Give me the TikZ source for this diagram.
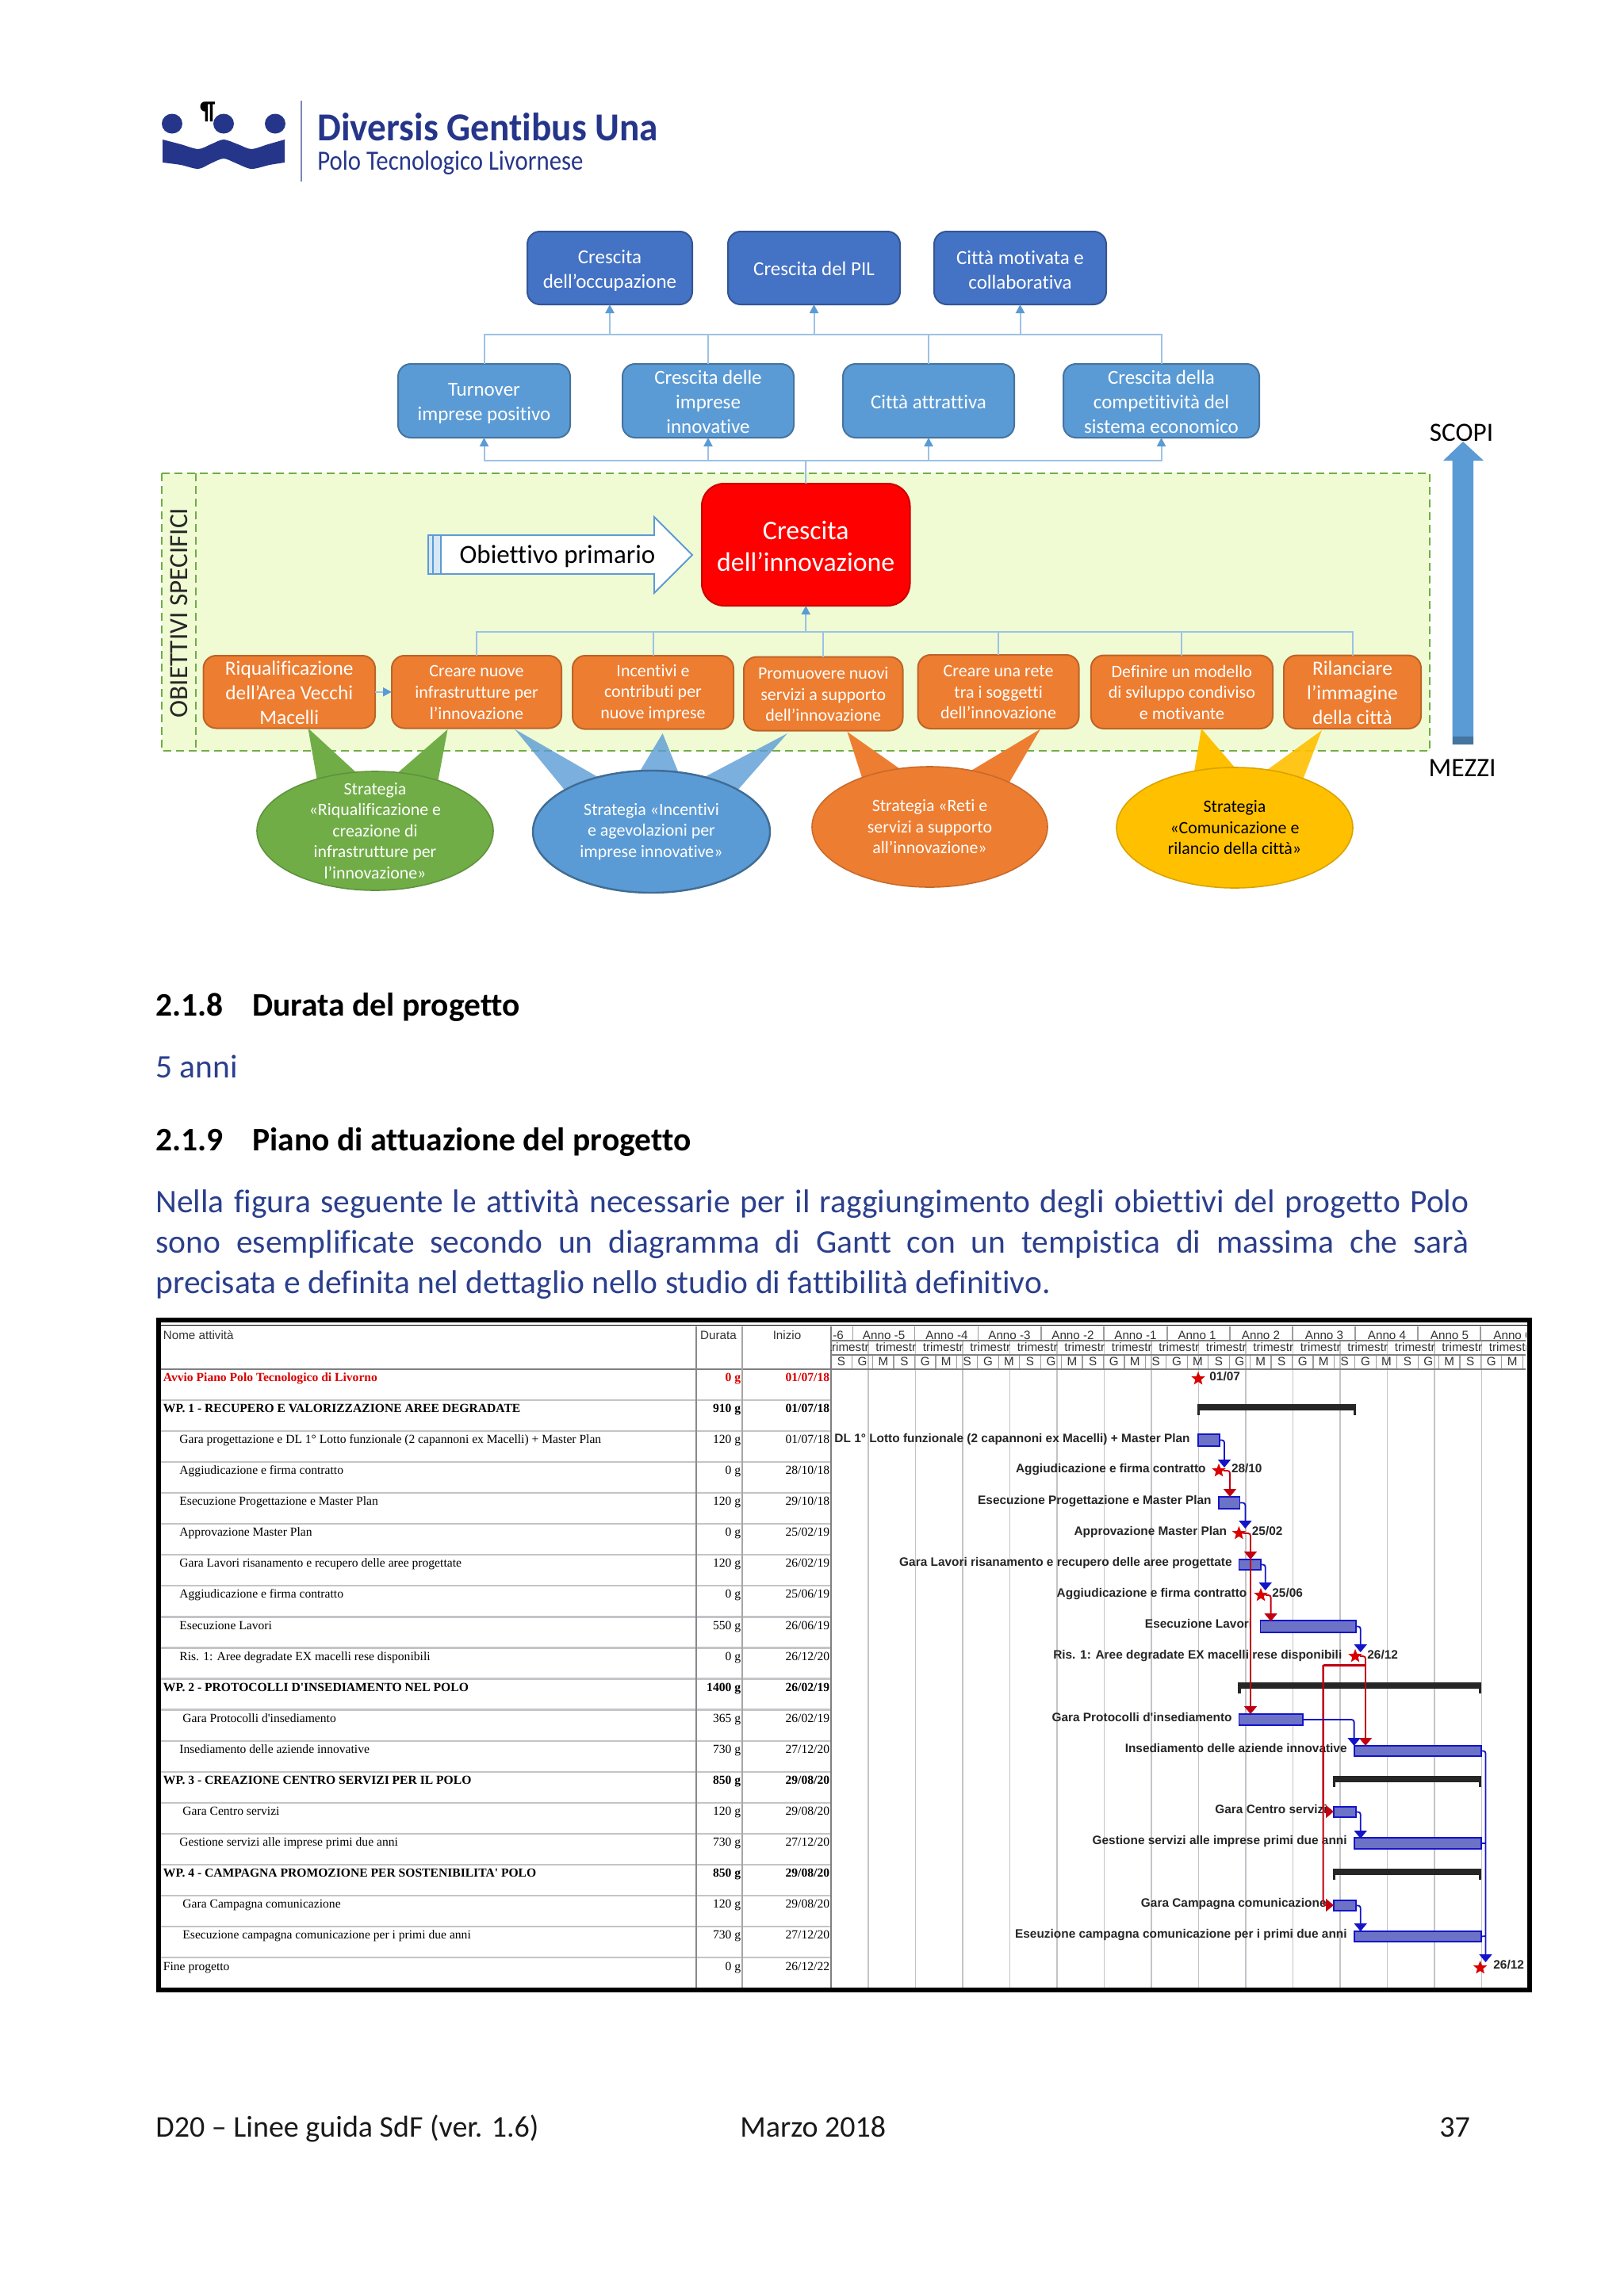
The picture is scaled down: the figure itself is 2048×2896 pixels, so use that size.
\documentclass[tikz,border=0pt]{standalone}
\usepackage{fontspec}
\setmainfont[Ligatures=NoCommon]{Carlito}
\newfontfamily\serf{Liberation Serif}
\newfontfamily\arl{Liberation Sans}
\usetikzlibrary{arrows.meta,shapes.geometric,calc}
\definecolor{navy}{HTML}{25368A}
\definecolor{boxa}{HTML}{4472C4}
\definecolor{boxb}{HTML}{5B9BD5}
\definecolor{boxo}{HTML}{ED7D31}
\definecolor{boxy}{HTML}{FFC000}
\definecolor{conc}{HTML}{9CC2E5}
\definecolor{greenf}{HTML}{F0FBD4}
\definecolor{greenl}{HTML}{70AD47}
\definecolor{bodyc}{HTML}{2B3F8C}
\definecolor{gred}{HTML}{C00010}
\definecolor{gblue}{HTML}{1414C8}
\definecolor{barf}{HTML}{6C72C6}
\definecolor{gridc}{HTML}{C4C4C8}
\newcommand\fsz[2]{\fontsize{#1}{#2}\selectfont}
% box without text
\newcommand\bxe[6]{%
  \pgfmathsetmacro\bxx{(#2+#4)/2}\pgfmathsetmacro\byy{(#3+#5)/2}%
  \pgfmathsetmacro\bw{(#4-#2)*.5}\pgfmathsetmacro\bh{(#5-#3)*.5}%
  \node[#6,minimum width=\bw pt,minimum height=\bh pt] (#1) at (\bxx,\byy) {};}
% box plus its text, the text set slightly below the centre (#8 = shift)
\newcommand\bx[8][0pt]{%
  \bxe{#2}{#3}{#4}{#5}{#6}{#7}
  \node[#7,draw=none,fill=none,rounded corners=0pt,yshift=-#1] (#2t) at (#2.center) {#8};}
\newcommand\grow[6]{%
  \pgfmathsetmacro\ry{1738.8+39.09*(#1-1)}%
  \node[tbl,#6,anchor=west] (n#1) at (#2,\ry) {#3};
  \node[tbl,#6,anchor=east] (d#1) at (934.5,\ry) {#4};
  \node[tbl,#6,anchor=east] (i#1) at (1046.5,\ry) {#5};}
\newcommand\sumbar[4]{%
  \fill[black!85] (#2,#4) rectangle (#3,#4+8);
  \fill[black!85] (#2,#4) rectangle (#2+3.5,#4+14);
  \fill[black!85] (#3-3.5,#4) rectangle (#3,#4+14);
  \coordinate (#1) at (#2,#4);}
\tikzset{
  x=0.5pt,y=-0.5pt,
  rbox/.style={rounded corners=8pt,inner sep=0pt,outer sep=0pt,align=center,text=white},
  rowa/.style={rbox,fill=boxa,draw=boxa!75!black,line width=1pt,font=\fsz{12.5}{15.5}},
  rowb/.style={rbox,fill=boxb,draw=boxb!75!black,line width=1pt,font=\fsz{12.5}{15.5}},
  obja/.style={rbox,fill=boxo,draw=boxo!80!black,line width=1pt,font=\fsz{11}{13.3}},
  objb/.style={rbox,fill=boxo,draw=boxo!80!black,line width=1pt,font=\fsz{12.7}{15.4}},
  conn/.style={draw=conc,line width=1pt},
  tipc/.style={-{Triangle[width=5.5pt,length=5.5pt,fill=boxb,color=boxb]}},
  elltxt/.style={ellipse,inner sep=-14pt,outer sep=0pt,minimum width=#1,align=center,text=white,font=\fsz{10.95}{13.25}},
  tbl/.style={inner sep=0pt,font=\serf\fsz{7.8}{8},text height=5pt,text depth=1.5pt},
  tbold/.style={font=\serf\bfseries\fsz{7.8}{8}},
  tred/.style={font=\serf\bfseries\fsz{7.8}{8},text=red!85!black},
  hdr/.style={inner sep=0pt,font=\arl\fsz{7.6}{8},text height=5pt,text depth=1.5pt,text=black!80},
  glab/.style={inner sep=0pt,anchor=east,font=\arl\bfseries\fsz{7.7}{8},text=black!85,text height=5pt,text depth=1pt},
  gdate/.style={inner sep=0pt,anchor=west,font=\arl\bfseries\fsz{7.7}{8},text=black!85,text height=5pt,text depth=1pt},
  gbar/.style={inner sep=0pt,outer sep=0pt,fill=barf,draw=gblue,line width=.9pt},
  gstar/.style={star,star points=5,star point ratio=2.3,fill=red!85!black,draw=none,inner sep=0pt,minimum size=9pt},
  gb/.style={draw=gblue,line width=.9pt,rounded corners=1.5pt,-{Triangle[width=8pt,length=5pt,fill=gblue,color=gblue]}},
  gr/.style={draw=gred,line width=.9pt,rounded corners=1.5pt,-{Triangle[width=8pt,length=5pt,fill=gred,color=gred]}},
  bodytx/.style={inner sep=0pt,anchor=west,text=bodyc,font=\fsz{20.75}{25},text height=15pt,text depth=5pt},
  headtx/.style={inner sep=0pt,anchor=west,text=black,font=\bfseries\fsz{20.75}{25},text height=15pt,text depth=5pt},
  foot/.style={inner sep=0pt,anchor=west,text=black!90,font=\fsz{19}{25},text height=15pt,text depth=5pt},
}
\begin{document}
\begin{tikzpicture}
\useasboundingbox (0,0) rectangle (2048,2896);
\fill[white] (0,0) rectangle (2048,2896);

% ---------- logo
\foreach \lx in {217,282,347}{\fill[navy] (\lx,156) ellipse[x radius=13,y radius=12.5];}
\fill[navy] plot[smooth] coordinates {(205,176)(228,182)(250,188)(266,182)(282,176)(300,182)(317,188)(338,182)(359,176)}
  -- plot[smooth] coordinates {(359,205)(340,208)(317,213)(298,206)(282,200)(266,206)(250,213)(228,208)(205,205)} -- cycle;
\draw[navy!60,line width=.6pt] (380,127) -- (380,229);
\node[inner sep=0pt,font=\bfseries\fsz{16}{16},text=black] (pil) at (262,141) {¶};
\node[inner sep=0pt,anchor=west,text=navy,font=\bfseries\fsz{25}{25}] (lg1) at (400,160) {\scalebox{.945}[1]{Diversis Gentibus Una}};
\node[inner sep=0pt,anchor=west,text=navy,font=\fsz{17.5}{17.5}] (lg2) at (400,205) {\scalebox{.88}[1]{Polo Tecnologico Livornese}};

% ---------- top boxes
\bx[1.6pt]{ra}{665}{292}{873}{384}{rowa}{Crescita\\dell’occupazione}
\bx[.6pt]{rb}{918}{292}{1135}{384}{rowa}{Crescita del PIL}
\bx[1.2pt]{rc}{1178}{292}{1395}{384}{rowa}{Città motivata e\\collaborativa}
\bx[1.6pt]{ta}{502}{459}{719}{552}{rowb}{Turnover\\imprese positivo}
\bx[.6pt]{tb}{785}{459}{1001}{552}{rowb}{Crescita delle\\imprese\\innovative}
\bx[.6pt]{tc}{1063}{459}{1279}{552}{rowb}{Città attrattiva}
\bx[.6pt]{td}{1341}{459}{1588}{552}{rowb}{Crescita della\\competitività del\\sistema economico}
\coordinate (bus1) at (1016,422);
\coordinate (bus2) at (1016,581);
\coordinate (bus3) at (1016,796.5);
\foreach \n in {ta,tb,tc,td}{\draw[conn] (\n.north) |- (bus1);}
\foreach \n in {ra,rb,rc}{\draw[conn,tipc] (bus1) -| (\n.south);}
\foreach \n in {ta,tb,tc,td}{\draw[conn,tipc] (bus2) -| (\n.south);}

% ---------- green area
\draw[greenl,fill=greenf,line width=1pt,dash pattern=on 5pt off 3pt] (204,597) rectangle (1803,947);
\draw[greenl,line width=1pt,dash pattern=on 5pt off 3pt] (247,597) -- (247,947);
\node[rotate=90,inner sep=0pt,text=black!85,font=\fsz{16.6}{18}] (obs) at (226,773) {OBIETTIVI SPECIFICI};

% ---------- primary arrow
\fill[conc!40] (540,675) rectangle (556,724);
\draw[boxb,line width=.8pt] (540,675) rectangle (546,724) (546,675) rectangle (556,724);
\draw[boxb,fill=white,line width=.9pt] (556,675) -- (825,675) -- (825,652) -- (873,700) -- (825,748) -- (825,724) -- (556,724) -- cycle;
\node[inner sep=0pt,text=black,font=\fsz{16.5}{20}] (op) at (703,702) {Obiettivo primario};

% ---------- red box
\bx[.8pt]{red}{885}{610}{1147.5}{764}{rbox,rounded corners=14pt,fill=red,draw=red!80!black,line width=1pt,font=\fsz{16.9}{20}}{Crescita\\dell’innovazione}
\draw[conn] (red.north) -- (bus2);
\draw[conn,tipc] (bus3) -- (red.south);

% ---------- objectives
\bx[.5pt]{oa}{256.5}{827}{473}{918.5}{objb}{Riqualificazione\\dell’Area Vecchi\\Macelli}
\bx[.3pt]{ob}{494}{827}{708}{918.5}{obja}{Creare nuove\\infrastrutture per\\l’innovazione}
\bx[.3pt]{oc}{722}{827}{925}{919.6}{obja}{Incentivi e\\contributi per\\nuove imprese}
\bx[.3pt]{od}{938}{828.6}{1138.5}{921.5}{obja}{Promuovere nuovi\\servizi a supporto\\dell’innovazione}
\bx[.3pt]{oe}{1157.6}{826}{1360.6}{919}{obja}{Creare una rete\\tra i soggetti\\dell’innovazione}
\bx[.3pt]{of}{1375.8}{826.6}{1605}{919}{obja}{Definire un modello\\di sviluppo condiviso\\e motivante}
\bx[.5pt]{og}{1619}{826.6}{1792}{919}{objb}{Rilanciare\\l’immagine\\della città}
\foreach \n in {ob,oc,od,oe,of,og}{\draw[conn] (\n.north) |- (bus3);}
\draw[conn,tipc] (oa.east) -- (ob.west);

% ---------- callout pointers
\fill[greenl] (388.5,918.5) -- (400,985) -- (451,976) -- cycle;
\fill[greenl] (564.5,920) -- (499,977) -- (552,987) -- cycle;
\fill[boxb,opacity=.8] (649,919.6) -- (712.5,997) -- (759,983) -- cycle;
\fill[boxb,opacity=.8] (835.6,925) -- (805,976) -- (857,978) -- cycle;
\fill[boxb,opacity=.8] (993,925) -- (883,983) -- (929,998) -- cycle;
\fill[boxo] (1068.5,923) -- (1088,984) -- (1138,972) -- cycle;
\fill[boxo] (1312,919.6) -- (1223,973) -- (1271,990) -- cycle;
\fill[boxy] (1515,919) -- (1505,979) -- (1560.6,972) -- cycle;
\fill[boxy,opacity=.9] (1667,921) -- (1594,974) -- (1642,986) -- cycle;

% ---------- callout ellipses
\node[elltxt=149pt,minimum height=75pt,fill=greenl,draw=greenl!85!black,line width=.8pt] (ea) at (473,1048) {Strategia\\«Riqualificazione e\\creazione di\\infrastrutture per\\l’innovazione»};
\node[elltxt=149.5pt,minimum height=77pt,fill=boxb,draw=boxb!70!black,line width=1.2pt] (eb) at (821.5,1049) {Strategia «Incentivi\\e agevolazioni per\\imprese innovative»};
\node[elltxt=148.5pt,minimum height=76pt,fill=boxo,draw=boxo!85!black,line width=.8pt] (ec) at (1172.5,1043) {Strategia «Reti e\\servizi a supporto\\all’innovazione»};
\node[elltxt=149pt,minimum height=76pt,fill=boxy,draw=boxy!85!black,line width=.8pt,text=black] (ed) at (1557,1044) {Strategia\\«Comunicazione e\\rilancio della città»};

% ---------- scopi/mezzi
\fill[boxb] (1831.5,939) -- (1831.5,581) -- (1820,581) -- (1845,557) -- (1871,581) -- (1858,581) -- (1858,939) -- cycle;
\fill[boxb!75!black] (1831.5,929) rectangle (1858,939);
\node[inner sep=0pt,text=black,font=\fsz{16.6}{20}] (sc) at (1843,546) {SCOPI};
\node[inner sep=0pt,text=black,font=\fsz{16.8}{20}] (me) at (1844,969) {MEZZI};

% ---------- text sections
\node[headtx] (h1n) at (196,1271) {2.1.8};
\node[headtx] (h1t) at (318,1271) {Durata del progetto};
\node[bodytx] (anni) at (196,1349) {5 anni};
\node[headtx] (h2n) at (196,1441) {2.1.9};
\node[headtx] (h2t) at (318,1441) {Piano di attuazione del progetto};
\node[bodytx] (p1) at (196,1519) {\makebox[828pt][s]{Nella figura seguente le attività necessarie per il raggiungimento degli obiettivi del progetto Polo}};
\node[bodytx] (p2) at (196,1570) {\makebox[828pt][s]{sono esemplificate secondo un diagramma di Gantt con un tempistica di massima che sarà}};
\node[bodytx] (p3) at (196,1621) {precisata e definita nel dettaglio nello studio di fattibilità definitivo.};

% ---------- footer
\node[foot] (f1) at (196,2685) {D20 – Linee guida SdF (ver. 1.6)};
\node[foot] (f2) at (933,2685) {Marzo 2018};
\node[foot] (f3) at (1815,2685) {37};

% ---------- gantt frame
\fill[black] (197,1662) rectangle (1932,2513);
\fill[white] (203,1668) rectangle (1926,2507);
\draw[black,line width=.9pt] (203,1671.5) -- (1926,1671.5);

% grid
\foreach \k in {0,...,13}{\pgfmathsetmacro\gx{1095+59.5*\k}\draw[gridc,line width=.7pt] (\gx,1691) -- (\gx,2507);}
\foreach \k in {0,...,32}{\pgfmathsetmacro\gx{1074.2+26.44*\k}\draw[gridc!80!black,line width=.6pt] (\gx,1709) -- (\gx,1727);}
\foreach \gx in {1075.6,1153.7,1233.5,1313,1392,1472,1551,1630,1709,1788,1867}{\draw[gridc!80!black,line width=.7pt] (\gx,1673) -- (\gx,1691);}
\foreach \gy in {1691,1709}{\draw[gray,line width=.7pt] (1048,\gy) -- (1924,\gy);}
\foreach \j in {1,...,19}{\pgfmathsetmacro\gy{1727+39.05*\j}\draw[gridc,line width=1.1pt] (203,\gy) -- (1048,\gy);}
\draw[gray,line width=1pt] (203,1727) -- (1924,1727);
\draw[gridc!70!black,line width=.7pt] (878,1673) -- (878,2507);
\draw[gray!70,line width=1pt] (936,1673) -- (936,2507);
\draw[gray,line width=1pt] (1048,1673) -- (1048,2507);

% gantt header
\node[hdr,anchor=west] (hn) at (205.5,1685.5) {Nome attività};
\node[hdr] (hd) at (906,1685.5) {Durata};
\node[hdr] (hi) at (992.5,1685.5) {Inizio};
\node[hdr] (y0) at (1057,1685.5) {-6};
\foreach \x/\t [count=\n] in {1114.6/Anno -5,1194/Anno -4,1273/Anno -3,1353/Anno -2,1432/Anno -1,1509.6/Anno 1,1590/Anno 2,1670/Anno 3,1749/Anno 4,1828/Anno 5}{\node[hdr] (yr\n) at (\x,1685.5) {\t};}
\begin{scope}\clip (1868,1674) rectangle (1924,1691);\node[hdr,anchor=west] (yrl) at (1883,1685.5) {Anno 6};\end{scope}
\foreach \k in {0,...,14}{%
  \pgfmathsetmacro\cxa{max(1048.6,1035.5+59.5*\k)}\pgfmathsetmacro\cxb{min(1924,1095+59.5*\k)}\pgfmathsetmacro\cxt{1044.5+59.5*\k}
  \begin{scope}\clip (\cxa,1692) rectangle (\cxb,1708);\node[hdr,anchor=west] (tm\k) at (\cxt,1701) {trimestre};\end{scope}}
\foreach \k in {0,...,32}{%
  \pgfmathsetmacro\gx{1061+26.44*\k}\pgfmathtruncatemacro\mm{mod(\k,3)}%
  \ifnum\mm=0 \def\lett{S}\fi\ifnum\mm=1 \def\lett{G}\fi\ifnum\mm=2 \def\lett{M}\fi
  \node[hdr] (sg\k) at (\gx,1719) {\lett};}

% table rows
\grow{1}{205.5}{Avvio Piano Polo Tecnologico di Livorno}{0 g}{01/07/18}{tred}
\grow{2}{205.5}{WP. 1 - RECUPERO E VALORIZZAZIONE AREE DEGRADATE}{910 g}{01/07/18}{tbold}
\grow{3}{226}{Gara progettazione e DL 1° Lotto funzionale (2 capannoni ex Macelli) + Master Plan}{120 g}{01/07/18}{}
\grow{4}{226}{Aggiudicazione e firma contratto}{0 g}{28/10/18}{}
\grow{5}{226}{Esecuzione Progettazione e Master Plan}{120 g}{29/10/18}{}
\grow{6}{226}{Approvazione Master Plan}{0 g}{25/02/19}{}
\grow{7}{226}{Gara Lavori risanamento e recupero delle aree progettate}{120 g}{26/02/19}{}
\grow{8}{226}{Aggiudicazione e firma contratto}{0 g}{25/06/19}{}
\grow{9}{226}{Esecuzione Lavori}{550 g}{26/06/19}{}
\grow{10}{226}{Ris. 1: Aree degradate EX macelli rese disponibili}{0 g}{26/12/20}{}
\grow{11}{205.5}{WP. 2 - PROTOCOLLI D'INSEDIAMENTO NEL POLO}{1400 g}{26/02/19}{tbold}
\grow{12}{230}{Gara Protocolli d'insediamento}{365 g}{26/02/19}{}
\grow{13}{226}{Insediamento delle aziende innovative}{730 g}{27/12/20}{}
\grow{14}{205.5}{WP. 3 - CREAZIONE CENTRO SERVIZI PER IL POLO}{850 g}{29/08/20}{tbold}
\grow{15}{230}{Gara Centro servizi}{120 g}{29/08/20}{}
\grow{16}{226}{Gestione servizi alle imprese primi due anni}{730 g}{27/12/20}{}
\grow{17}{205.5}{WP. 4 - CAMPAGNA PROMOZIONE PER SOSTENIBILITA' POLO}{850 g}{29/08/20}{tbold}
\grow{18}{230}{Gara Campagna comunicazione}{120 g}{29/08/20}{}
\grow{19}{230}{Esecuzione campagna comunicazione per i primi due anni}{730 g}{27/12/20}{}
\grow{20}{205.5}{Fine progetto}{0 g}{26/12/22}{}

% gantt labels
\node[glab] (la3) at (1501,1815) {DL 1° Lotto funzionale (2 capannoni ex Macelli) + Master Plan};
\node[glab] (la4) at (1521,1853) {Aggiudicazione e firma contratto};
\node[glab] (la5) at (1528,1893) {Esecuzione Progettazione e Master Plan};
\node[glab] (la6) at (1547.5,1932) {Approvazione Master Plan};
\node[glab] (la7) at (1554,1971) {Gara Lavori risanamento e recupero delle aree progettate};
\node[glab] (la8) at (1572.7,2010) {Aggiudicazione e firma contratto};
\node[glab] (la9) at (1579.6,2049) {Esecuzione Lavori};
\node[glab] (la10) at (1692.7,2088) {Ris. 1: Aree degradate EX macelli rese disponibili};
\node[glab] (la12) at (1554,2167) {Gara Protocolli d'insediamento};
\node[glab] (la13) at (1699,2206) {Insediamento delle aziende innovative};
\node[glab] (la15) at (1674,2283) {Gara Centro servizi};
\node[glab] (la16) at (1699,2322) {Gestione servizi alle imprese primi due anni};
\node[glab] (la18) at (1673,2401) {Gara Campagna comunicazione};
\node[glab] (la19) at (1699,2440) {Eseuzione campagna comunicazione per i primi due anni};
\node[gdate] (dt1) at (1525,1737) {01/07};
\node[gdate] (dt4) at (1552.6,1853) {28/10};
\node[gdate] (dt6) at (1578.5,1932) {25/02};
\node[gdate] (dt8) at (1604,2010) {25/06};
\node[gdate] (dt10) at (1724,2088) {26/12};
\node[gdate] (dt20) at (1883,2479) {26/12};

% summary bars
\sumbar{sa}{1509.6}{1710}{1771}
\sumbar{sb}{1561}{1868}{2122}
\sumbar{sc}{1680.6}{1868}{2240}
\sumbar{sd}{1680.6}{1868}{2357}

% task bars
\bxe{b3}{1511}{1809}{1538}{1824}{gbar}
\bxe{b5}{1537}{1888}{1563.5}{1903}{gbar}
\bxe{b7}{1562.4}{1967}{1590}{1980}{gbar}
\bxe{b9}{1589.4}{2044}{1710}{2059}{gbar}
\bxe{b12}{1562.4}{2162}{1643}{2176}{gbar}
\bxe{b13}{1707.6}{2202}{1868}{2215}{gbar}
\bxe{b15}{1682}{2279}{1710}{2292}{gbar}
\bxe{b16}{1707.6}{2318}{1868}{2332}{gbar}
\bxe{b18}{1682}{2397}{1710}{2410}{gbar}
\bxe{b19}{1707.6}{2436}{1868}{2449}{gbar}

% milestones
\node[gstar] (s1) at (1511,1739) {};
\node[gstar] (s4) at (1537,1855) {};
\node[gstar] (s6) at (1562.4,1934) {};
\node[gstar] (s8) at (1590,2012) {};
\node[gstar] (s10) at (1709,2089) {};
\node[gstar] (s20) at (1866.6,2482) {};

% links
\coordinate (h4) at (1544,1851);
\coordinate (h5) at (1551,1888);
\coordinate (h6) at (1570.4,1928);
\coordinate (h7) at (1577,1967);
\coordinate (h12) at (1577,2162);
\coordinate (h8) at (1595.7,2006);
\coordinate (h9) at (1602.6,2045);
\coordinate (h10) at (1715.7,2084);
\coordinate (h13a) at (1707.6,2202);
\coordinate (h13b) at (1722,2202);
\coordinate (j1) at (1722,2100);
\coordinate (j2) at (1668.6,2100);
\coordinate (h15) at (1682,2285);
\coordinate (h18) at (1682,2403);
\coordinate (h16) at (1715.7,2319);
\coordinate (h19) at (1715.7,2436);
\coordinate (h20) at (1873.5,2475);
\coordinate (r16) at (1873.5,2325);
\coordinate (r19) at (1873.5,2442);
\draw[gb] (b3.east) -| (h4);
\draw[gr] (s4.east) -| (h5);
\draw[gb] (b5.east) -| (h6);
\draw[gr] (s6.east) -| (h7);
\draw[gr] (h7) -- (h12);
\draw[gb] (b7.east) -| (h8);
\draw[gr] (s8.east) -| (h9);
\draw[gb] (b9.east) -| (h10);
\draw[gr] (s10.east) -| (h13b);
\draw[gred,line width=1.5pt] (j1) -- (j2);
\draw[gr] (j2) |- (h15);
\draw[gr] (j2) |- (h18);
\draw[gb] (b12.east) -| (h13a);
\draw[gb] (b13.east) -| (h20);
\draw[gb] (b15.east) -| (h16);
\draw[gb] (b18.east) -| (h19);
\draw[gblue,line width=.9pt] (b16.east) -- (r16);
\draw[gblue,line width=.9pt] (b19.east) -- (r19);
\end{tikzpicture}
\end{document}
